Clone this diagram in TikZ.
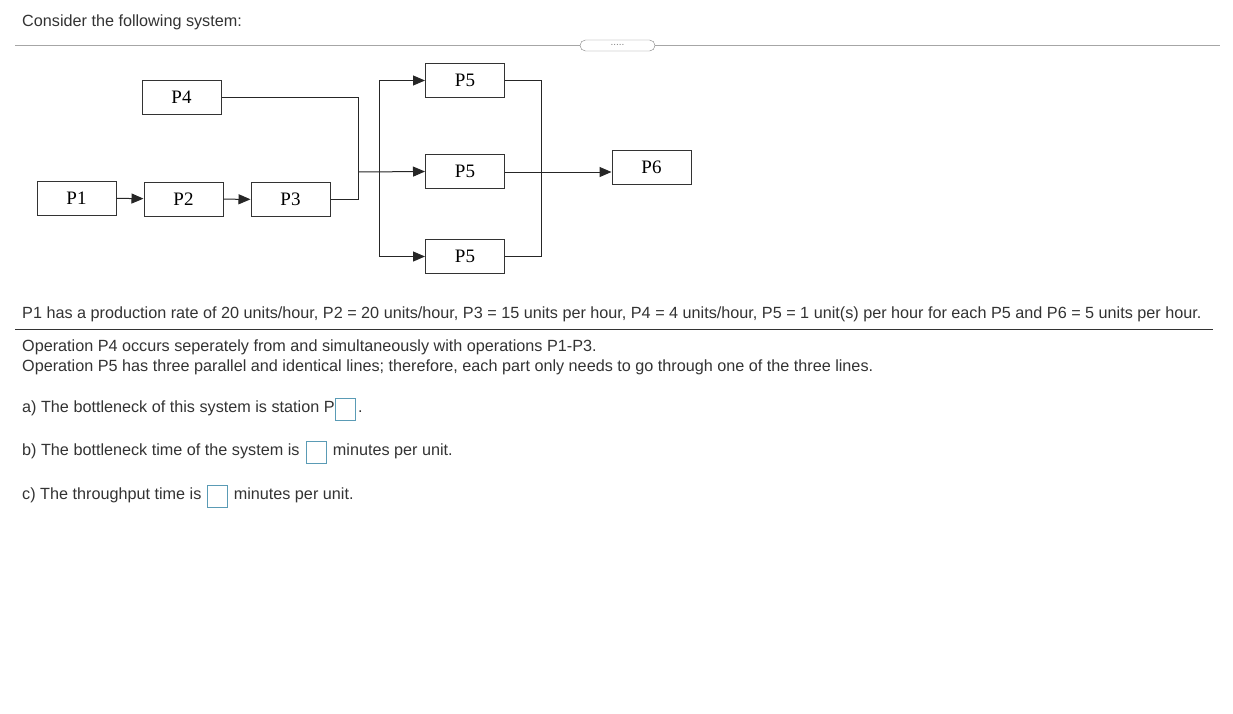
\documentclass[tikz,border=0pt]{standalone}
\usepackage{fontspec}
\setmainfont{Liberation Sans}
\newfontfamily\serifp{Liberation Serif}
\usetikzlibrary{arrows.meta}
\definecolor{txt}{HTML}{333333}
\definecolor{inbox}{HTML}{5A9BB5}
\begin{document}
\begin{tikzpicture}[x=1pt,y=-1pt,
  pbox/.style={draw=black!80,line width=1pt,minimum width=79pt,minimum height=34pt,inner sep=0pt,font=\serifp\fontsize{19}{21}\selectfont},
  conn/.style={line width=1pt,black!85},
  arr/.style={conn,-{Triangle[length=12pt,width=10pt]}},
  qt/.style={anchor=west,inner sep=0pt,text=txt,font=\fontsize{16.2}{18}\selectfont},
  ansbox/.style={draw=inbox,line width=1pt,minimum width=20pt,minimum height=22pt,inner sep=0pt}]
\useasboundingbox (0,0) rectangle (1233,713);
\fill[white] (0,0) rectangle (1233,713);
\node[qt] (t0) at (22,22) {Consider the following system:};
\draw[gray!70,line width=1pt] (15,45) -- (1220,45);
\node[draw=gray,fill=white,rounded corners=5.5pt,minimum width=75pt,minimum height=11pt,inner sep=0pt,font=\fontsize{10}{10}\selectfont,text=gray] (pill) at (617.5,45.5) {\raisebox{2pt}{.....}};
\node[pbox] (p4) at (181.5,97) {P4};
\node[pbox] (p1) at (76.5,198) {P1};
\node[pbox] (p2) at (183.5,199) {P2};
\node[pbox] (p3) at (290.5,199.5) {P3};
\node[pbox] (p5a) at (465,80.5) {P5};
\node[pbox] (p5b) at (465,171.5) {P5};
\node[pbox] (p5c) at (465,256.5) {P5};
\node[pbox] (p6) at (651.5,167.5) {P6};
\coordinate (j) at (358,172);
\coordinate (k) at (379,172);
\coordinate (r) at (541,172);
\draw[arr] (p1) -- (p2);
\draw[arr] (p2) -- (p3);
\draw[conn] (p4.east) -| (j);
\draw[conn] (p3.east) -| (j);
\draw[arr] (j) -- (p5b.west);
\draw[arr] (k) |- (p5a.west);
\draw[arr] (k) |- (p5c.west);
\draw[conn] (p5a.east) -| (r);
\draw[conn] (p5c.east) -| (r);
\draw[arr] (p5b.east |- r) -- (p6.west |- r);
\node[qt] (t1) at (22,314) {P1 has a production rate of 20 units/hour, P2 = 20 units/hour, P3 = 15 units per hour, P4 = 4 units/hour, P5 = 1 unit(s) per hour for each P5 and P6 = 5 units per hour.};
\draw[black!80,line width=1pt] (15,329) -- (1213,329);
\node[qt] (t2) at (22,347) {Operation P4 occurs seperately from and simultaneously with operations P1-P3.};
\node[qt] (t3) at (22,367) {Operation P5 has three parallel and identical lines; therefore, each part only needs to go through one of the three lines.};
\node[qt] (qa) at (22,408) {a) The bottleneck of this system is station P};
\node[ansbox,anchor=west] (ba) at ([yshift=-1pt]qa.east) {};
\node[qt,anchor=base west] (qa2) at ([xshift=2pt]ba.east |- qa.base) {.};
\node[qt] (qb) at (22,451) {b) The bottleneck time of the system is};
\node[ansbox,anchor=west] (bb) at ([xshift=6pt,yshift=-1pt]qb.east) {};
\node[qt] (qb2) at ([xshift=6pt,yshift=1pt]bb.east) {minutes per unit.};
\node[qt] (qc) at (22,495) {c) The throughput time is};
\node[ansbox,anchor=west] (bc) at ([xshift=5pt,yshift=-1pt]qc.east) {};
\node[qt] (qc2) at ([xshift=6pt,yshift=1pt]bc.east) {minutes per unit.};
\end{tikzpicture}
\end{document}
